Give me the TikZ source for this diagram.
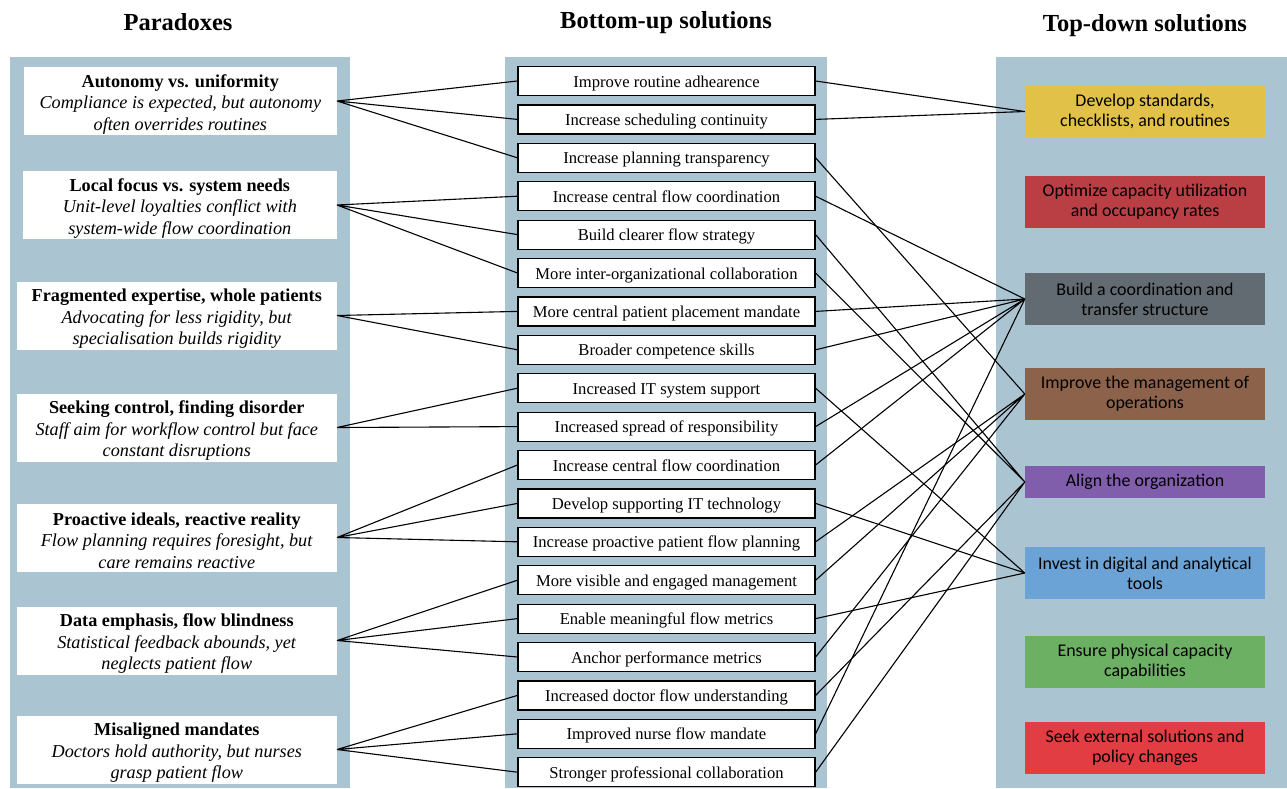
\documentclass[tikz,border=0pt]{standalone}
\usepackage{fontspec}
\setmainfont{Liberation Serif}
\newfontfamily\sansbox{Carlito}
\usepackage{tikz}
\usetikzlibrary{positioning}

\definecolor{panel}{RGB}{171,196,210}
\definecolor{tdyellow}{RGB}{226,193,72}
\definecolor{tdred}{RGB}{185,63,69}
\definecolor{tdgray}{RGB}{99,107,114}
\definecolor{tdbrown}{RGB}{140,98,75}
\definecolor{tdpurple}{RGB}{128,94,172}
\definecolor{tdblue}{RGB}{107,163,214}
\definecolor{tdgreen}{RGB}{108,176,99}
\definecolor{tdred2}{RGB}{226,61,67}

\begin{document}
\begin{tikzpicture}[x=1pt,y=-1pt]
\tikzstyle{head} = [font=\bfseries\fontsize{24.5}{28}\selectfont];
\tikzstyle{para} = [fill=white, align=center, inner sep=0pt, minimum height=68pt, anchor=east, font=\fontsize{18.2}{21.5}\selectfont];
\tikzstyle{bu} = [draw, line width=1.2pt, fill=white, minimum width=297pt, minimum height=29pt, inner sep=0pt, text height=14pt, text depth=2pt, font=\fontsize{16.6}{18}\selectfont];
\tikzstyle{td} = [minimum width=240pt, minimum height=52pt, align=center, inner sep=0pt, font=\sansbox\fontsize{17.9}{20}\selectfont];
\tikzstyle{link} = [line width=1.1pt];

\useasboundingbox (0,0) rectangle (1287,788);
% background panels
\fill[panel] (10,57) rectangle (350,788);
\fill[panel] (505,57) rectangle (827,788);
\fill[panel] (996,57) rectangle (1287,788);

\node[head] (H1) at (178,22) {Paradoxes};
\node[head] (H2) at (666,23) {Bottom-up solutions};
\node[head] (H3) at (1145,26) {Top-down solutions};

% paradoxes
\node[para, minimum width=313pt] (P1) at (337,101) {\rule{0pt}{19pt}\textbf{Autonomy vs. uniformity}\\ \textit{Compliance is expected, but autonomy}\\ \textit{often overrides routines}};
\node[para, minimum width=314pt] (P2) at (337,205) {\rule{0pt}{19pt}\textbf{Local focus vs. system needs}\\ \textit{Unit-level loyalties conflict with}\\ \textit{system-wide flow coordination}};
\node[para, minimum width=320pt] (P3) at (337,315.5) {\rule{0pt}{19pt}\textbf{Fragmented expertise, whole patients}\\ \textit{Advocating for less rigidity, but}\\ \textit{specialisation builds rigidity}};
\node[para, minimum width=320pt] (P4) at (337,427.5) {\rule{0pt}{19pt}\textbf{Seeking control, finding disorder}\\ \textit{Staff aim for workflow control but face}\\ \textit{constant disruptions}};
\node[para, minimum width=320pt] (P5) at (337,537.5) {\rule{0pt}{19pt}\textbf{Proactive ideals, reactive reality}\\ \textit{Flow planning requires foresight, but}\\ \textit{care remains reactive}};
\node[para, minimum width=320pt] (P6) at (337,640.5) {\rule{0pt}{19pt}\textbf{Data emphasis, flow blindness}\\ \textit{Statistical feedback abounds, yet}\\ \textit{neglects patient flow}};
\node[para, minimum width=320pt] (P7) at (337,749.5) {\rule{0pt}{19pt}\textbf{Misaligned mandates}\\ \textit{Doctors hold authority, but nurses}\\ \textit{grasp patient flow}};

% bottom-up solutions
\node[bu] (B1) at (666.5,81) {Improve routine adhearence};
\node[bu, below=8.2pt of B1] (B2) {Increase scheduling continuity};
\node[bu, below=8.2pt of B2] (B3) {Increase planning transparency};
\node[bu, below=8.2pt of B3] (B4) {Increase central flow coordination};
\node[bu, below=8.2pt of B4] (B5) {Build clearer flow strategy};
\node[bu, below=8.2pt of B5] (B6) {More inter-organizational collaboration};
\node[bu, below=8.2pt of B6] (B7) {More central patient placement mandate};
\node[bu, below=8.2pt of B7] (B8) {Broader competence skills};
\node[bu, below=8.2pt of B8] (B9) {Increased IT system support};
\node[bu, below=8.2pt of B9] (B10) {Increased spread of responsibility};
\node[bu, below=8.2pt of B10] (B11) {Increase central flow coordination};
\node[bu, below=8.2pt of B11] (B12) {Develop supporting IT technology};
\node[bu, below=8.2pt of B12] (B13) {Increase proactive patient flow planning};
\node[bu, below=8.2pt of B13] (B14) {More visible and engaged management};
\node[bu, below=8.2pt of B14] (B15) {Enable meaningful flow metrics};
\node[bu, below=8.2pt of B15] (B16) {Anchor performance metrics};
\node[bu, below=8.2pt of B16] (B17) {Increased doctor flow understanding};
\node[bu, below=8.2pt of B17] (B18) {Improved nurse flow mandate};
\node[bu, below=8.2pt of B18] (B19) {Stronger professional collaboration};

% top-down solutions
\node[td, fill=tdyellow] (T1) at (1145,111.5) {Develop standards,\\ checklists, and routines};
\node[td, fill=tdred] (T2) at (1145,202) {Optimize capacity utilization\\ and occupancy rates};
\node[td, fill=tdgray] (T3) at (1145,299) {Build a coordination and\\ transfer structure};
\node[td, fill=tdbrown] (T4) at (1145,394) {Improve the management of\\ operations};
\node[td, fill=tdpurple, minimum height=32pt] (T5) at (1145,482) {Align the organization};
\node[td, fill=tdblue] (T6) at (1145,573) {Invest in digital and analytical\\ tools};
\node[td, fill=tdgreen] (T7) at (1145,662) {Ensure physical capacity\\ capabilities};
\node[td, fill=tdred2] (T8) at (1145,748) {Seek external solutions and\\ policy changes};

% paradoxes to bottom-up
\draw[link] (P1.east) -- (B1.west) (P1.east) -- (B2.west) (P1.east) -- (B3.west);
\draw[link] (P2.east) -- (B4.west) (P2.east) -- (B5.west) (P2.east) -- (B6.west);
\draw[link] (P3.east) -- (B7.west) (P3.east) -- (B8.west);
\draw[link] (P4.east) -- (B9.west) (P4.east) -- (B10.west);
\draw[link] (P5.east) -- (B11.west) (P5.east) -- (B12.west) (P5.east) -- (B13.west);
\draw[link] (P6.east) -- (B14.west) (P6.east) -- (B15.west) (P6.east) -- (B16.west);
\draw[link] (P7.east) -- (B17.west) (P7.east) -- (B18.west) (P7.east) -- (B19.west);

% bottom-up to top-down
\draw[link] (B1.east) -- (T1.west) (B2.east) -- (T1.west);
\draw[link] (B4.east) -- (T3.west) (B7.east) -- (T3.west) (B8.east) -- (T3.west);
\draw[link] (B10.east) -- (T3.west) (B11.east) -- (T3.west) (B18.east) -- (T3.west);
\draw[link] (B3.east) -- (T4.west) (B13.east) -- (T4.west) (B14.east) -- (T4.west) (B16.east) -- (T4.west);
\draw[link] (B5.east) -- (T5.west) (B6.east) -- (T5.west) (B17.east) -- (T5.west) (B19.east) -- (T5.west);
\draw[link] (B9.east) -- (T6.west) (B12.east) -- (T6.west) (B15.east) -- (T6.west);
\end{tikzpicture}
\end{document}
